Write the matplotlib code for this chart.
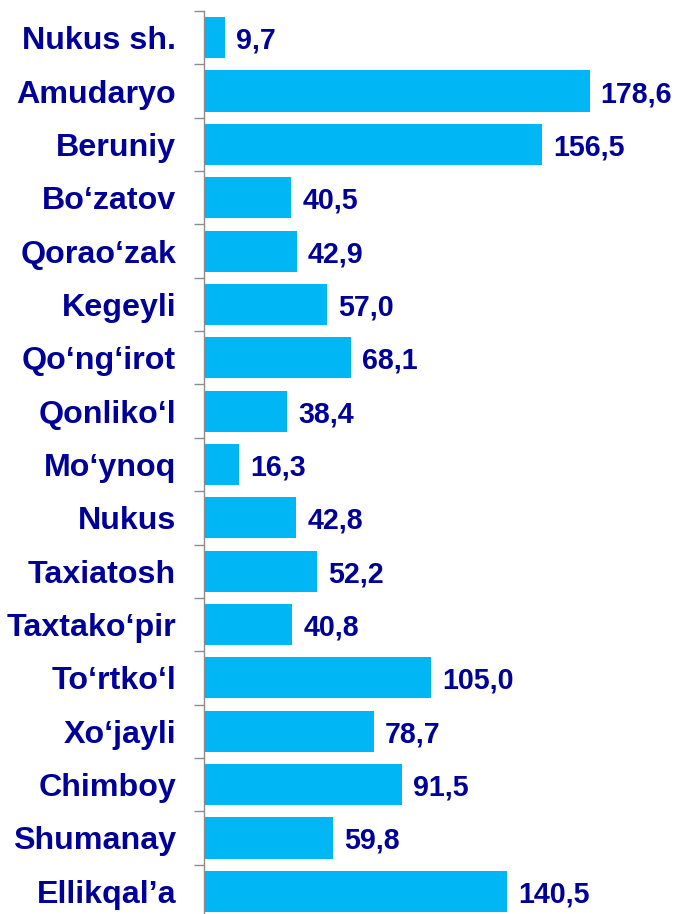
import matplotlib
matplotlib.use("Agg")
import matplotlib.pyplot as plt
import numpy as np

categories = ["Nukus sh.", "Amudaryo", "Beruniy", "Bo\u2018zatov", "Qorao\u2018zak",
              "Kegeyli", "Qo\u2018ng\u2018irot", "Qonliko\u2018l", "Mo\u2018ynoq", "Nukus",
              "Taxiatosh", "Taxtako\u2018pir", "To\u2018rtko\u2018l", "Xo\u2018jayli",
              "Chimboy", "Shumanay", "Ellikqal\u2019a"]
values = [9.7, 178.6, 156.5, 40.5, 42.9, 57.0, 68.1, 38.4, 16.3, 42.8,
          52.2, 40.8, 105.0, 78.7, 91.5, 59.8, 140.5]
value_labels = ["9,7", "178,6", "156,5", "40,5", "42,9", "57,0", "68,1", "38,4", "16,3",
                "42,8", "52,2", "40,8", "105,0", "78,7", "91,5", "59,8", "140,5"]

plt.rcParams['font.family'] = ['Liberation Sans', 'DejaVu Sans']
text_color = "#000099"
bar_color = "#00B6F4"

fig = plt.figure(figsize=(6.82, 9.14), dpi=100)
ax = fig.add_axes([204/682, (914-918)/914, (679-204)/682, (918-11)/914])

y = np.arange(len(categories))
ax.barh(y, values, height=0.77, color=bar_color)
ax.set_ylim(len(categories)-0.5, -0.5)
ax.set_xlim(0, 220)

for yi, v, lab in zip(y, values, value_labels):
    ax.annotate(lab, (v, yi), xytext=(8, 0), textcoords="offset points",
                va="center_baseline", ha="left", fontsize=20.6, fontweight="bold",
                color=text_color)

ax.set_yticks(y)
ax.set_yticklabels(categories, fontsize=23.2, fontweight="bold", color=text_color,
                   va="center_baseline")
ax.tick_params(axis="y", which="major", length=0, pad=20)
ax.set_yticks(np.arange(-0.5, len(categories)), minor=True)
ax.tick_params(axis="y", which="minor", length=7, color="#8c8c8c", width=1)
ax.set_xticks([])
for s in ["top", "right", "bottom"]:
    ax.spines[s].set_visible(False)
ax.spines["left"].set_color("#8c8c8c")
ax.spines["left"].set_linewidth(1)

fig.savefig("out.png", dpi=100)
